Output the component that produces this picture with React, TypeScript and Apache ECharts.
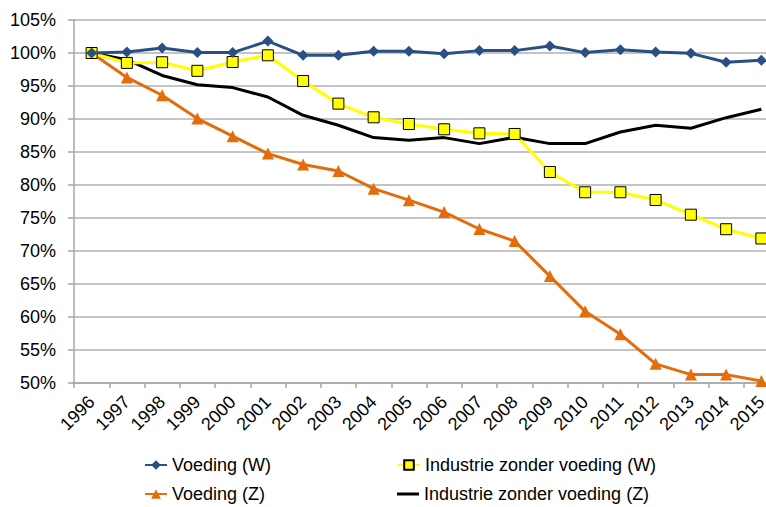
import React, { useEffect, useRef } from "react";
import * as echarts from "echarts";

const years = ["1996","1997","1998","1999","2000","2001","2002","2003","2004","2005","2006","2007","2008","2009","2010","2011","2012","2013","2014","2015"];
const voedingW = [100, 100.15, 100.76, 100.06, 100.06, 101.8, 99.65, 99.65, 100.26, 100.26, 99.9, 100.36, 100.36, 101.06, 100.06, 100.5, 100.15, 99.95, 98.6, 98.9];
const industrieW = [100, 98.5, 98.6, 97.3, 98.64, 99.65, 95.76, 92.33, 90.26, 89.24, 88.44, 87.83, 87.73, 81.97, 78.9, 78.9, 77.73, 75.5, 73.3, 71.9];
const voedingZ = [100, 96.3, 93.6, 90.06, 87.4, 84.76, 83.1, 82.12, 79.45, 77.7, 75.9, 73.33, 71.5, 66.2, 60.86, 57.4, 52.9, 51.27, 51.27, 50.3];
const industrieZ = [100, 99.0, 96.6, 95.2, 94.76, 93.33, 90.56, 89.05, 87.18, 86.77, 87.18, 86.27, 87.23, 86.27, 86.27, 88.03, 89.05, 88.6, 90.2, 91.47];

const FONT = "'Liberation Sans', Arial, sans-serif";

export default function App() {
  const ref = useRef<HTMLDivElement>(null);
  useEffect(() => {
    const chart = echarts.init(ref.current!, null, { renderer: "svg" });
    const legendText = { fontSize: 18, color: "#000", fontFamily: FONT };
    const mkLegend = (item: any, left: number, top: number, itemHeight = 12) => ({
      data: [item],
      left,
      top,
      itemWidth: 22,
      itemHeight,
      itemGap: 0,
      padding: 0,
      textStyle: legendText,
    });
    chart.setOption({
      animation: false,
      backgroundColor: "#fff",
      textStyle: { fontFamily: FONT },
      grid: { left: 74, top: 20, right: 0, bottom: 124, containLabel: false },
      legend: [
        mkLegend("Voeding (W)", 144, 456),
        mkLegend("Industrie zonder voeding (W)", 397, 456),
        mkLegend("Voeding (Z)", 144, 485),
        mkLegend({ name: "Industrie zonder voeding (Z)", icon: "rect" }, 397, 485, 3),
      ],
      xAxis: {
        type: "category",
        data: years,
        boundaryGap: true,
        axisLine: { lineStyle: { color: "#a6a6a6", width: 1.5 } },
        axisTick: { show: true, interval: 0, length: 5, lineStyle: { color: "#a6a6a6", width: 1.5 } },
        axisLabel: { interval: 0, rotate: 45, fontSize: 18, color: "#000", fontFamily: FONT, margin: 16 },
        splitLine: { show: false },
      },
      yAxis: {
        type: "value",
        min: 50,
        max: 105,
        interval: 5,
        axisLine: { show: true, lineStyle: { color: "#a6a6a6", width: 1.5 } },
        axisTick: { show: true, length: 6, lineStyle: { color: "#a6a6a6", width: 1.5 } },
        axisLabel: { fontSize: 18, color: "#000", fontFamily: FONT, margin: 18, formatter: (v: number) => `${v}%` },
        splitLine: { show: true, lineStyle: { color: "#b0b0b0", width: 1.5 } },
      },
      series: [
        {
          name: "Voeding (W)",
          type: "line",
          data: voedingW,
          symbol: "diamond",
          symbolSize: 11,
          lineStyle: { color: "#2A4F83", width: 3 },
          itemStyle: { color: "#2A4F83" },
          z: 5,
        },
        {
          name: "Industrie zonder voeding (W)",
          type: "line",
          data: industrieW,
          symbol: "rect",
          symbolSize: 11,
          lineStyle: { color: "#FFFF00", width: 3 },
          itemStyle: { color: "#FFFF00", borderColor: "#000", borderWidth: 1 },
          z: 4,
        },
        {
          name: "Voeding (Z)",
          type: "line",
          data: voedingZ,
          symbol: "triangle",
          symbolSize: 12,
          lineStyle: { color: "#E46C0A", width: 3 },
          itemStyle: { color: "#E46C0A" },
          z: 3,
        },
        {
          name: "Industrie zonder voeding (Z)",
          type: "line",
          data: industrieZ,
          symbol: "none",
          lineStyle: { color: "#000", width: 3 },
          itemStyle: { color: "#000" },
          z: 2,
        },
      ],
    });
    return () => chart.dispose();
  }, []);
  return (
    <div style={{ position: "absolute", left: 0, top: 0, width: 766, height: 507, overflow: "hidden", background: "#fff" }}>
      <div ref={ref} style={{ width: 779, height: 507 }} />
    </div>
  );
}
